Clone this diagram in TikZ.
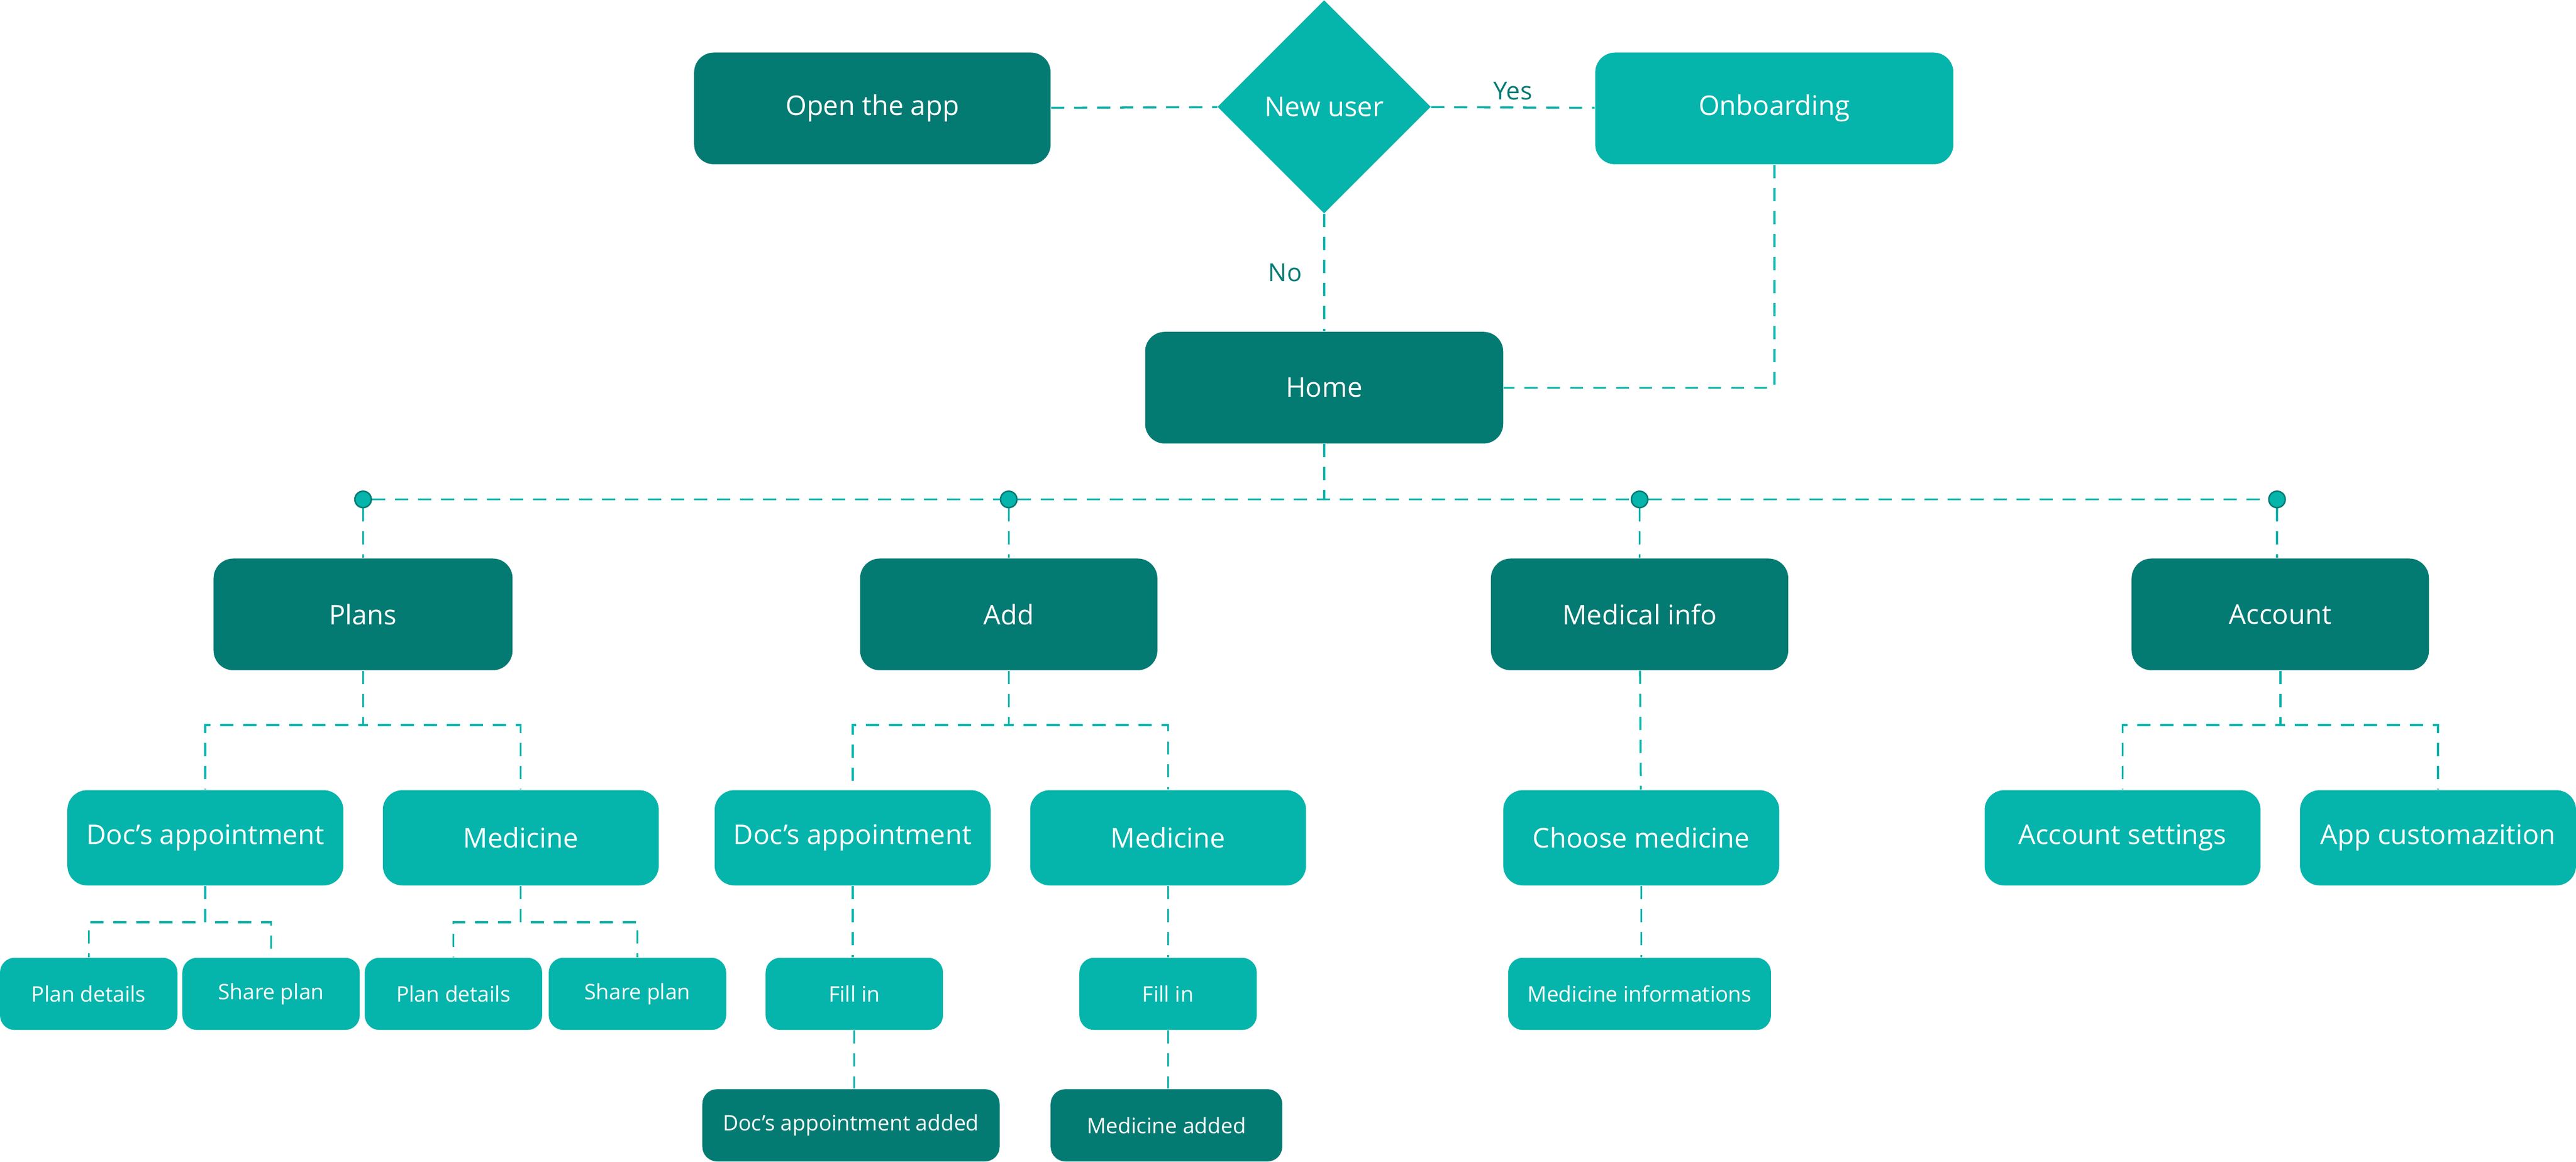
\documentclass[tikz,border=0pt]{standalone}
\usepackage{fontspec}
\setmainfont{Open Sans}
\usetikzlibrary{shapes.geometric}
\definecolor{darkteal}{HTML}{037A72}
\definecolor{lightteal}{HTML}{05B4AB}
\begin{document}
\begin{tikzpicture}[x=0.02cm,y=-0.02cm,
  box/.style={rectangle,rounded corners=0.24cm,text=white,inner sep=0pt,font=\fontsize{9.4}{11}\selectfont},
  big/.style={box,minimum height=1.36cm},
  mid/.style={box,minimum height=1.16cm,minimum width=3.36cm,fill=lightteal},
  small/.style={box,minimum height=0.88cm,font=\fontsize{7.4}{9}\selectfont,rounded corners=0.18cm},
  link/.style={draw=lightteal,line width=0.7pt,dash pattern=on 0.16cm off 0.12cm},
  dot/.style={circle,fill=lightteal,draw=darkteal,line width=0.5pt,inner sep=0pt,minimum size=0.2cm},
  lbl/.style={text=darkteal,font=\fontsize{8.6}{10}\selectfont}]
\useasboundingbox (0,0) rectangle (1568,707);

% top row
\node[big,fill=darkteal,minimum width=4.34cm] (open) at (531,66) {Open the app};
\node[diamond,fill=lightteal,text=white,minimum width=2.6cm,minimum height=2.6cm,inner sep=0pt,font=\fontsize{9.4}{11}\selectfont] (new) at (806,65) {New user};
\node[big,fill=lightteal,minimum width=4.36cm] (onb) at (1080,66) {Onboarding};
\node[big,fill=darkteal,minimum width=4.36cm] (home) at (806,236) {Home};

\draw[link] (open) -- (new);
\draw[link] (new) -- node[lbl,above=-1pt] {Yes} (onb);
\draw[link] (new) -- node[lbl,left=4pt] {No} (home);
\draw[link] (onb.south) |- (home.east);

% bus
\coordinate (bus) at (806,304);
\node[dot] (b1) at (221,304) {};
\node[dot] (b2) at (614,304) {};
\node[dot] (b3) at (998,304) {};
\node[dot] (b4) at (1386,304) {};
\draw[link] (home.south) -- (bus);
\draw[link] (b1) -- (b2) -- (b3) -- (b4);

% sections
\node[big,fill=darkteal,minimum width=3.64cm] (plans) at (221,374) {Plans};
\node[big,fill=darkteal,minimum width=3.62cm] (add) at (614,374) {Add};
\node[big,fill=darkteal,minimum width=3.62cm] (med) at (998,374) {Medical info};
\node[big,fill=darkteal,minimum width=3.62cm] (acc) at (1388,374) {Account};
\draw[link] (b1) -- (plans);
\draw[link] (b2) -- (add);
\draw[link] (b3) -- (med);
\draw[link] (b4) -- (acc.north -| b4);

% second level
\node[mid] (pdoc) at (125,510) {Doc's appointment};
\node[mid] (pmed) at (317,510) {Medicine};
\node[mid] (adoc) at (519,510) {Doc's appointment};
\node[mid] (amed) at (711,510) {Medicine};
\node[mid] (choose) at (999,510) {Choose medicine};
\node[mid] (settings) at (1292,510) {Account settings};
\node[mid] (custom) at (1484,510) {App customazition};
\draw[link] (plans.south) -- ++(0,33) -| (pdoc.north);
\draw[link] (plans.south) -- ++(0,33) -| (pmed.north);
\draw[link] (add.south) -- ++(0,33) -| (adoc.north);
\draw[link] (add.south) -- ++(0,33) -| (amed.north);
\draw[link] (med) -- (choose);
\draw[link] (acc.south) -- ++(0,33) -| (settings.north);
\draw[link] (acc.south) -- ++(0,33) -| (custom.north);

% third level
\node[small,fill=lightteal,minimum width=2.16cm] (pdet1) at (54,605) {Plan details};
\node[small,fill=lightteal,minimum width=2.16cm] (pshare1) at (165,605) {Share plan};
\node[small,fill=lightteal,minimum width=2.16cm] (pdet2) at (276,605) {Plan details};
\node[small,fill=lightteal,minimum width=2.16cm] (pshare2) at (388,605) {Share plan};
\node[small,fill=lightteal,minimum width=2.16cm] (fill1) at (520,605) {Fill in};
\node[small,fill=lightteal,minimum width=2.16cm] (fill2) at (711,605) {Fill in};
\node[small,fill=lightteal,minimum width=3.2cm] (info) at (998,605) {Medicine informations};
\draw[link] (pdoc.south) -- ++(0,22) -| (pdet1.north);
\draw[link] (pdoc.south) -- ++(0,22) -| (pshare1.north);
\draw[link] (pmed.south) -- ++(0,22) -| (pdet2.north);
\draw[link] (pmed.south) -- ++(0,22) -| (pshare2.north);
\draw[link] (adoc.south) -- (fill1.north -| adoc.south);
\draw[link] (amed) -- (fill2);
\draw[link] (choose.south) -- (info.north -| choose.south);

% results
\node[small,fill=darkteal,minimum width=3.62cm] (docadded) at (518,685) {Doc's appointment added};
\node[small,fill=darkteal,minimum width=2.82cm] (medadded) at (710,685) {Medicine added};
\draw[link] (fill1.south) -- (docadded.north -| fill1.south);
\draw[link] (fill2.south) -- (medadded.north -| fill2.south);
\end{tikzpicture}
\end{document}
